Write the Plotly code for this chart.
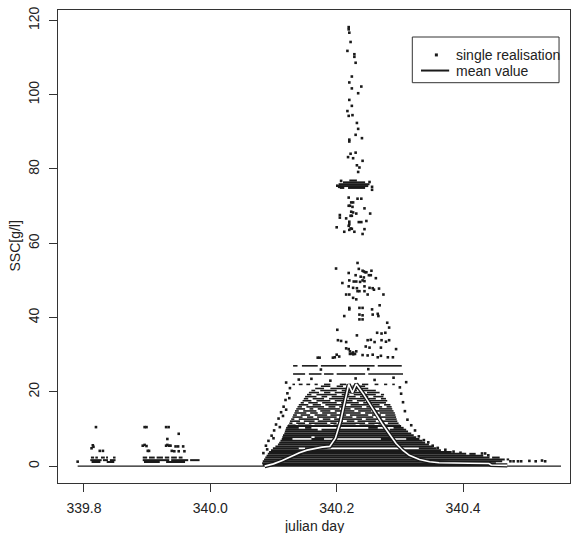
import plotly.graph_objects as go

# ---------------- data ----------------
x_ticks = [339.8, 340.0, 340.2, 340.4]
x_tick_text = ["339.8", "340.0", "340.2", "340.4"]
y_ticks = [0, 20, 40, 60, 80, 100, 120]

# zero baseline (all realisations zero)
base_x = [339.79, 340.555]
base_y = [0, 0]

# mean value curve
mean_x = [340.086, 340.100, 340.114, 340.128, 340.141, 340.153, 340.165, 340.177, 340.189, 340.198,
          340.206, 340.212, 340.219, 340.225, 340.231, 340.242, 340.252, 340.262, 340.272, 340.283,
          340.294, 340.305, 340.315, 340.331, 340.347, 340.362, 340.378, 340.41, 340.441, 340.4446, 340.47]
mean_y = [0.0, 0.6, 1.5, 2.6, 3.6, 4.3, 4.8, 5.1, 5.3, 7.5,
          12.0, 17.0, 22.0, 19.8, 22.1, 19.5, 16.8, 14.0, 11.4, 8.7,
          6.1, 4.2, 2.9, 1.8, 1.15, 0.9, 0.8, 0.75, 0.7, 0.3, 0.2]

# dense horizontal runs of single realisations (level, list of (start, end))
dense_levels = [0.3, 0.8, 1.1, 1.3, 1.6, 1.8, 2.3, 2.8, 3.3, 3.8, 4.3, 4.8, 5.3, 5.8, 6.3, 6.8,
                7.3, 7.8, 8.3, 8.8, 9.3, 9.8, 10.3, 10.8, 74.9, 75.4, 75.9, 76.4, 76.9]
dense_segments = [
    [(340.083, 340.455), (340.46, 340.468)],
    [(340.082, 340.452)],
    [(339.812, 339.826), (339.836, 339.848), (339.895, 339.92), (339.93, 339.96)],
    [(340.083, 340.462)],
    [(339.810, 339.828), (339.830, 339.838), (339.841, 339.850), (339.893, 339.935),
     (339.938, 339.965), (339.968, 339.983)],
    [(340.085, 340.466), (340.469, 340.473)],
    [(339.811, 339.816), (339.818, 339.822), (339.827, 339.833), (339.835, 339.838),
     (339.846, 339.850), (339.893, 339.900), (339.903, 339.912), (339.915, 339.925),
     (339.928, 339.935), (339.938, 339.947), (339.950, 339.956),
     (340.087, 340.442), (340.446, 340.458)],
    [(340.089, 340.432)],
    [(340.091, 340.405), (340.41, 340.42)],
    [(340.093, 340.382)],
    [(340.096, 340.365)],
    [(340.099, 340.14), (340.15, 340.17), (340.33, 340.358)],
    [(340.103, 340.352)],
    [(340.107, 340.346)],
    [(340.109, 340.19), (340.196, 340.340)],
    [(340.111, 340.336)],
    [(340.113, 340.13), (340.16, 340.18), (340.27, 340.29), (340.31, 340.331)],
    [(340.114, 340.16), (340.165, 340.326)],
    [(340.115, 340.322)],
    [(340.117, 340.318)],
    [(340.118, 340.313)],
    [(340.119, 340.17), (340.176, 340.28), (340.284, 340.31)],
    [(340.12, 340.14), (340.15, 340.16), (340.25, 340.265), (340.29, 340.306)],
    [(340.122, 340.302)],
    [(340.205, 340.212), (340.218, 340.245)],
    [(340.202, 340.25)],
    [(340.203, 340.252)],
    [(340.21, 340.245)],
    [(340.22, 340.232)],
]

# looser runs in the upper part of the event
loose_levels = [11.0, 11.55, 12.1, 12.65, 13.2, 13.75, 14.3, 14.85, 15.4, 15.95, 16.5, 17.05,
                17.6, 18.15, 18.7, 19.25, 19.8, 20.35, 20.9, 21.5, 22.0, 24.8, 27.0]
loose_segments = [
    [(340.123, 340.135), (340.139, 340.16), (340.165, 340.19), (340.195, 340.23), (340.236, 340.26), (340.266, 340.3)],
    [(340.125, 340.13), (340.136, 340.15), (340.156, 340.185), (340.19, 340.2), (340.206, 340.245), (340.25, 340.275), (340.281, 340.298)],
    [(340.126, 340.142), (340.148, 340.165), (340.17, 340.21), (340.216, 340.228), (340.233, 340.262), (340.268, 340.296)],
    [(340.128, 340.133), (340.14, 340.172), (340.178, 340.19), (340.196, 340.24), (340.246, 340.27), (340.277, 340.295)],
    [(340.13, 340.146), (340.153, 340.163), (340.169, 340.2), (340.206, 340.225), (340.231, 340.258), (340.264, 340.294)],
    [(340.131, 340.137), (340.143, 340.158), (340.165, 340.185), (340.19, 340.215), (340.221, 340.25), (340.256, 340.27), (340.277, 340.293)],
    [(340.133, 340.152), (340.158, 340.17), (340.177, 340.2), (340.206, 340.238), (340.245, 340.262), (340.268, 340.292)],
    [(340.134, 340.14), (340.147, 340.168), (340.174, 340.19), (340.197, 340.228), (340.234, 340.255), (340.262, 340.29)],
    [(340.136, 340.15), (340.157, 340.163), (340.17, 340.205), (340.211, 340.222), (340.228, 340.26), (340.267, 340.288)],
    [(340.138, 340.145), (340.152, 340.18), (340.187, 340.198), (340.204, 340.24), (340.247, 340.272), (340.279, 340.287)],
    [(340.14, 340.155), (340.162, 340.175), (340.182, 340.215), (340.222, 340.25), (340.257, 340.268), (340.275, 340.285)],
    [(340.143, 340.148), (340.155, 340.17), (340.177, 340.2), (340.207, 340.235), (340.242, 340.278)],
    [(340.146, 340.16), (340.168, 340.19), (340.197, 340.225), (340.232, 340.245), (340.252, 340.28)],
    [(340.148, 340.155), (340.162, 340.18), (340.188, 340.212), (340.219, 340.262), (340.27, 340.278)],
    [(340.15, 340.168), (340.176, 340.185), (340.192, 340.23), (340.237, 340.25), (340.258, 340.274)],
    [(340.153, 340.16), (340.168, 340.2), (340.208, 340.22), (340.227, 340.262), (340.27, 340.275)],
    [(340.156, 340.172), (340.18, 340.19), (340.197, 340.24), (340.248, 340.268)],
    [(340.16, 340.166), (340.174, 340.2), (340.208, 340.232), (340.24, 340.262)],
    [(340.166, 340.18), (340.19, 340.215), (340.224, 340.25)],
    [(340.175, 340.19), (340.2, 340.21), (340.225, 340.245)],
    [(340.13, 340.134), (340.14, 340.146), (340.152, 340.158), (340.165, 340.17), (340.18, 340.19),
     (340.205, 340.215), (340.24, 340.25), (340.26, 340.266), (340.275, 340.28), (340.288, 340.292)],
    [(340.131, 340.15), (340.156, 340.176), (340.18, 340.195), (340.2, 340.245), (340.25, 340.305)],
    [(340.131, 340.138), (340.145, 340.17), (340.175, 340.215), (340.22, 340.26), (340.265, 340.303)],
]

# isolated single realisations
pts_x = [
    339.819, 339.814, 339.815, 339.812, 339.825, 339.830, 339.790,
    339.896, 339.899, 339.930, 339.934, 339.950, 339.893, 339.896, 339.899, 339.901, 339.903,
    339.930, 339.932, 339.935, 339.937, 339.932, 339.945, 339.949, 339.957, 339.959, 339.943,
    339.950, 339.939,
    340.219, 340.219, 340.220, 340.222, 340.217, 340.228, 340.228, 340.230, 340.224, 340.220,
    340.239, 340.224, 340.234, 340.220, 340.224, 340.217, 340.219, 340.225, 340.232, 340.234,
    340.230, 340.240, 340.220, 340.220, 340.222, 340.230, 340.218, 340.226, 340.241, 340.232,
    340.236, 340.234,
    340.201, 340.204, 340.256, 340.256, 340.207, 340.252,
    340.219, 340.233, 340.239, 340.223, 340.226, 340.219, 340.221, 340.225, 340.244, 340.223,
    340.226, 340.253, 340.231, 340.205, 340.205, 340.222, 340.224, 340.215, 340.220, 340.220,
    340.235, 340.239, 340.247, 340.200, 340.219, 340.222, 340.224, 340.220, 340.228, 340.212,
    340.244, 340.241,
    340.233, 340.199, 340.235, 340.241, 340.245, 340.243, 340.247, 340.255, 340.219, 340.230,
    340.238, 340.243, 340.251, 340.254, 340.262, 340.220, 340.227, 340.231, 340.237, 340.241,
    340.244, 340.209, 340.219, 340.226, 340.232, 340.244, 340.252, 340.257, 340.267, 340.215,
    340.220, 340.233, 340.236, 340.244, 340.249, 340.226, 340.231, 340.259, 340.274, 340.220,
    340.220, 340.236, 340.241, 340.256, 340.268, 340.212, 340.236, 340.241, 340.236, 340.241,
    340.257, 340.265, 340.266,
    340.280, 340.283, 340.201, 340.264, 340.271, 340.277, 340.232, 340.202, 340.207, 340.215,
    340.249, 340.254, 340.260, 340.271, 340.278, 340.283, 340.246, 340.252, 340.270, 340.294,
    340.215, 340.219, 340.221, 340.226, 340.231, 340.200, 340.204, 340.197, 340.241, 340.249,
    340.257, 340.265, 340.270, 340.281, 340.289, 340.170, 340.173, 340.194, 340.221, 340.224,
    340.226, 340.229,
    340.14, 340.16, 340.19, 340.23, 340.26, 340.29, 340.175, 340.25, 340.12, 340.31,
    340.084, 340.088, 340.092, 340.097, 340.101, 340.104, 340.108, 340.112, 340.116, 340.119,
    340.122, 340.126, 340.090, 340.100, 340.110, 340.115, 340.120, 340.125,
    340.300, 340.302, 340.305, 340.308, 340.312, 340.318, 340.324, 340.330, 340.338, 340.345,
    340.352, 340.360, 340.372, 340.385, 340.396, 340.430, 340.435, 340.440,
    340.475, 340.480, 340.487, 340.492, 340.505, 340.515, 340.525, 340.530,
]
pts_y = [
    10.5, 5.6, 5.2, 4.8, 4.1, 4.1, 1.2,
    10.5, 10.5, 10.5, 10.5, 8.7, 5.5, 5.7, 5.4, 4.1, 4.1,
    5.5, 5.7, 5.5, 5.5, 7.3, 5.3, 5.3, 5.3, 4.0, 4.0,
    4.0, 4.1,
    118.2, 117.6, 116.7, 114.2, 111.8, 110.9, 110.2, 108.6, 104.9, 103.3,
    102.2, 101.7, 100.4, 98.6, 97.0, 95.6, 94.3, 94.5, 92.4, 90.8,
    89.2, 88.3, 87.9, 87.4, 84.1, 84.4, 83.2, 82.9, 82.2, 81.0,
    80.4, 79.2,
    75.5, 75.2, 75.2, 74.4, 76.8, 76.5,
    72.3, 72.0, 72.0, 71.0, 71.0, 70.1, 70.1, 69.8, 69.4, 68.5,
    68.3, 68.0, 68.0, 67.6, 66.9, 67.4, 67.4, 66.7, 65.8, 65.1,
    65.7, 65.7, 66.0, 64.3, 64.7, 64.0, 63.9, 63.6, 63.1, 63.1,
    63.8, 62.5,
    54.7, 53.2, 53.1, 52.6, 52.2, 52.4, 52.2, 52.6, 52.0, 51.4,
    51.0, 50.8, 51.4, 51.4, 50.6, 50.0, 49.7, 49.7, 49.6, 50.0,
    49.8, 49.3, 48.4, 48.0, 47.9, 48.4, 48.0, 47.9, 47.8, 46.2,
    46.2, 47.1, 47.1, 47.1, 46.2, 45.3, 44.9, 47.5, 46.2, 42.6,
    42.2, 42.6, 42.6, 42.2, 43.3, 40.4, 40.8, 40.6, 39.5, 39.5,
    40.8, 41.0, 40.4,
    38.6, 37.3, 36.7, 35.9, 35.7, 35.9, 35.2, 33.9, 33.7, 33.4,
    33.9, 34.0, 33.4, 33.9, 33.5, 33.9, 32.2, 31.9, 31.9, 31.5,
    31.7, 31.5, 30.9, 30.6, 30.9, 30.0, 29.5, 29.3, 29.9, 29.8,
    30.0, 29.3, 29.7, 29.3, 29.3, 29.2, 29.2, 29.2, 30.2, 30.3,
    30.1, 30.2,
    23.3, 23.5, 23.0, 23.6, 23.2, 23.8, 26.0, 26.1, 22.5, 22.6,
    3.5, 5.5, 6.8, 8.2, 9.6, 11.2, 12.8, 14.5, 16.0, 17.8,
    19.6, 21.0, 4.5, 7.5, 10.5, 13.5, 15.2, 18.3,
    21.2, 19.5, 17.2, 14.8, 12.5, 11.0, 9.6, 8.0, 7.0, 6.4,
    5.5, 4.9, 4.4, 3.9, 3.6, 3.4, 3.4, 2.9,
    1.3, 1.3, 1.3, 1.3, 1.4, 1.3, 1.5, 1.3,
]

# ---------------- build figure ----------------
def runs_to_xy(levels, segments):
    xs, ys = [], []
    for lvl, segs in zip(levels, segments):
        for a, b in segs:
            xs += [a, b, None]
            ys += [lvl, lvl, None]
    return xs, ys

dense_x, dense_y = runs_to_xy(dense_levels, dense_segments)
loose_x, loose_y = runs_to_xy(loose_levels, loose_segments)

INK = "#1a1a1a"
FONT = "Liberation Sans, Arial, sans-serif"

fig = go.Figure()
fig.add_trace(go.Scatter(x=dense_x, y=dense_y, mode="lines",
                         line=dict(color=INK, width=2), hoverinfo="skip", showlegend=False))
fig.add_trace(go.Scatter(x=loose_x, y=loose_y, mode="lines",
                         line=dict(color=INK, width=1.6), hoverinfo="skip", showlegend=False))
fig.add_trace(go.Scatter(x=pts_x, y=pts_y, mode="markers",
                         marker=dict(symbol="square", size=2.6, color=INK, line=dict(width=0)),
                         showlegend=False))
fig.add_trace(go.Scatter(x=base_x, y=base_y, mode="lines",
                         line=dict(color=INK, width=1.3), showlegend=False))
fig.add_trace(go.Scatter(x=mean_x, y=mean_y, mode="lines",
                         line=dict(color=INK, width=4.2), showlegend=False))
fig.add_trace(go.Scatter(x=mean_x, y=mean_y, mode="lines",
                         line=dict(color="white", width=1.6), showlegend=False))

axis_common = dict(showline=True, mirror=True, linecolor="#333333", linewidth=1,
                   ticks="outside", ticklen=8, tickcolor="#333333", tickwidth=1,
                   showgrid=False, zeroline=False,
                   tickfont=dict(family=FONT, size=14, color="#222222"))

fig.update_layout(
    width=578, height=533,
    margin=dict(l=58, r=7, t=7, b=50),
    plot_bgcolor="white", paper_bgcolor="white",
    xaxis=dict(range=[339.7589, 340.5693], tickvals=x_ticks, ticktext=x_tick_text,
               ticklabelstandoff=4, **axis_common),
    yaxis=dict(range=[-4.55, 122.81], tickvals=y_ticks, tickangle=-90,
               ticklabelstandoff=4, **axis_common),
    showlegend=False,
)

fig.add_annotation(text="julian day", xref="paper", yref="paper", x=0.5, y=0,
                   yshift=-43, showarrow=False, xanchor="center", yanchor="middle",
                   font=dict(family=FONT, size=14, color="#222222"))
fig.add_annotation(text="SSC[g/l]", xref="paper", yref="paper", x=0, y=0.5,
                   xshift=-44, showarrow=False, textangle=-90, xanchor="center", yanchor="middle",
                   font=dict(family=FONT, size=14, color="#222222"))

fig.add_shape(type="rect", xref="paper", yref="paper", x0=0.692, x1=0.9786, y0=0.8463, y1=0.9429,
              line=dict(color="#333333", width=1), fillcolor="white", layer="above")
fig.add_shape(type="rect", xref="paper", yref="paper", xsizemode="pixel", ysizemode="pixel",
              xanchor=0.739, yanchor=0.905, x0=-1.5, x1=1.5, y0=-1.5, y1=1.5,
              line=dict(width=0), fillcolor=INK, layer="above")
fig.add_shape(type="line", xref="paper", yref="paper", x0=0.709, x1=0.764, y0=0.872, y1=0.872,
              line=dict(color=INK, width=2), layer="above")
fig.add_annotation(text="single realisation", xref="paper", yref="paper", x=0.774, y=0.905,
                   showarrow=False, xanchor="left", yanchor="middle",
                   font=dict(family=FONT, size=14, color="#222222"))
fig.add_annotation(text="mean value", xref="paper", yref="paper", x=0.774, y=0.872,
                   showarrow=False, xanchor="left", yanchor="middle",
                   font=dict(family=FONT, size=14, color="#222222"))

fig.write_html("out.html")
